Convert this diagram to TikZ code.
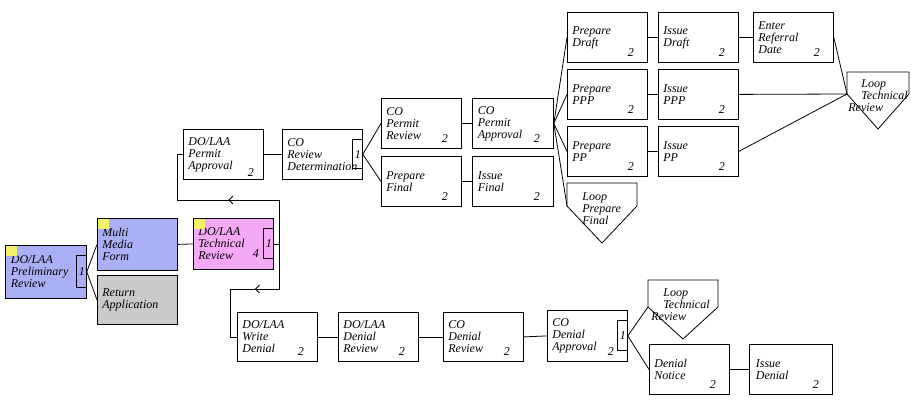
\documentclass[tikz,border=0pt]{standalone}
\usepackage{fontspec}
\setmainfont{Liberation Serif}
\usetikzlibrary{calc,arrows.meta,decorations.markings}
\definecolor{blueF}{RGB}{170,176,246}
\definecolor{pinkF}{RGB}{245,168,245}
\definecolor{grayF}{RGB}{202,202,202}
\definecolor{yellowF}{RGB}{242,240,104}
\begin{document}
\begin{tikzpicture}[x=1pt,y=-1pt,line width=0.8pt,
  txt/.style={font=\itshape\fontsize{12}{12}\selectfont},
  box/.style={txt,draw,fill=white,rectangle,anchor=north west,minimum width=80pt,minimum height=50pt,
    text width=70pt,inner xsep=5pt,inner ysep=0pt,align=left,
    execute at begin node={\hyphenpenalty=10000\exhyphenpenalty=10000}},
  num/.style={txt,inner sep=0pt,anchor=center},
  looptext/.style={txt,inner sep=0pt,anchor=north west,align=left},
  loopshape/.style={draw,fill=white,line join=miter},
  midarrow/.style={decoration={markings,mark=at position 0.5 with {\arrow{Straight Barb[length=4pt,width=8pt,line width=0.8pt]}}},postaction=decorate}]
\fill[white] (0,0) rectangle (924,402);
\useasboundingbox (0,0) rectangle (924,402);

% boxes
\node[box,fill=blueF,minimum width=81pt,minimum height=53pt] (pre) at (5,245) {DO/LAA\\Preliminary\\Review};
\node[box,fill=blueF,minimum height=52pt] (mmf) at (97,218) {Multi\\Media\\Form};
\node[box,fill=grayF,minimum height=49pt] (ret) at (97,275) {Return\\Application};
\node[box,fill=pinkF,minimum height=51pt] (tec) at (193,218) {DO/LAA\\Technical\\Review};
\node[box] (dpa) at (183,129) {DO/LAA\\Permit\\Approval};
\node[box] (crd) at (282,129) {CO\\Review\\Determination};
\node[box] (cpr) at (381,98) {CO\\Permit\\Review};
\node[box] (pfi) at (381,156) {Prepare\\Final};
\node[box,minimum width=81pt] (cpa) at (472,98) {CO\\Permit\\Approval};
\node[box,minimum width=81pt] (ifi) at (472,156) {Issue\\Final};
\node[box] (pdr) at (567,12) {Prepare\\Draft};
\node[box] (idr) at (658,12) {Issue\\Draft};
\node[box] (erd) at (753,12) {Enter\\Referral\\Date};
\node[box] (ppp) at (567,69) {Prepare\\PPP};
\node[box] (ipq) at (658,69) {Issue\\PPP};
\node[box] (ppx) at (567,126) {Prepare\\PP};
\node[box] (ipp) at (658,126) {Issue\\PP};
\node[box,minimum height=49pt] (wde) at (237,312) {DO/LAA\\Write\\Denial};
\node[box,minimum height=49pt] (dre) at (338,312) {DO/LAA\\Denial\\Review};
\node[box,minimum height=49pt] (cdr) at (443,312) {CO\\Denial\\Review};
\node[box,minimum height=51pt] (cda) at (547,310) {CO\\Denial\\Approval};
\node[box] (dno) at (649,344) {Denial\\Notice};
\node[box,minimum width=83pt] (ide) at (749,344) {Issue\\Denial};

% yellow corner marks
\foreach \n in {pre,mmf,tec}
  \fill[yellowF] ($(\n.north west)+(0.5,0.5)$) rectangle ++(11,10);

% brackets with "1"
\foreach \n in {pre,tec,crd,cda}{
  \draw ($(\n.north east)+(-10,10)$) rectangle ($(\n.south east)+(0,-11)$);
  \node[num] (\n-b) at ($(\n.east)+(-5,0)$) {1};
}

% numbers
\node[num] (dpa-n) at ($(dpa.south east)+(-13,-7)$) {2};
\node[num] (tec-n) at ($(tec.south east)+(-18,-16)$) {4};
\foreach \n in {cpr,pfi,cpa,ifi,pdr,idr,erd,ppp,ipq,ppx,ipp,wde,dre,cdr,cda,dno,ide}
  \node[num] (\n-n) at ($(\n.south east)+(-17,-10)$) {2};

% loop shapes
\draw[loopshape] (847,72) -- (909,72) -- (909,94) -- (878,129) -- (847,94) -- cycle;
\coordinate (ltra) at (847,94);
\node[looptext] (ltrt) at (861,79) {Loop\\Technical\\\hspace*{-13pt}Review};
\draw[loopshape] (567,183) -- (637,183) -- (637,206) -- (602,243) -- (567,206) -- cycle;
\coordinate (lpfa) at (567,206);
\node[looptext] (lpft) at (582,192) {Loop\\Prepare\\Final};
\draw[loopshape] (648,280) -- (718,280) -- (718,307) -- (683,339) -- (648,307) -- cycle;
\coordinate (ltrb) at (648,307);
\node[looptext] (ltrbt) at (663,288) {Loop\\Technical\\\hspace*{-12pt}Review};

% connectors
\draw (pre.east) -- (mmf.west);
\draw (pre.east) -- (ret.west);
\draw (mmf.east) -- (tec.west);
\coordinate (tj) at ($(tec.east)+(6,0)$);
\coordinate (ba) at (tj |- 0,200);
\coordinate (bb) at (177,200);
\coordinate (bc) at (tj |- 0,289);
\coordinate (bd) at (230,289);
\draw (tec.east) -- (tj) -- (ba);
\draw[midarrow] (ba) -- (bb);
\draw (bb) |- (dpa.west);
\draw (tj) -- (bc);
\draw[midarrow] (bc) -- (bd);
\draw (bd) |- (wde.west);
\draw (dpa.east) -- (crd.west);
\draw (crd.east) -- (cpr.west);
\draw (crd.east) -- (pfi.west);
\draw (cpr.east) -- (cpa.west);
\draw (pfi.east) -- (ifi.west);
\draw (cpa.east) -- (pdr.west);
\draw (cpa.east) -- (ppp.west);
\draw (cpa.east) -- (ppx.west);
\draw (cpa.east) -- (lpfa);
\draw (pdr.east) -- (idr.west);
\draw (idr.east) -- (erd.west);
\draw (ppp.east) -- (ipq.west);
\draw (ppx.east) -- (ipp.west);
\draw (erd.east) -- (ltra);
\draw (ipq.east) -- (ltra);
\draw (ipp.east) -- (ltra);
\draw (wde.east) -- (dre.west);
\draw (dre.east) -- (cdr.west);
\draw (cdr.east) -- (cda.west);
\draw (cda.east) -- (ltrb);
\draw (cda.east) -- (dno.west);
\draw (dno.east) -- (ide.west);
\end{tikzpicture}
\end{document}
